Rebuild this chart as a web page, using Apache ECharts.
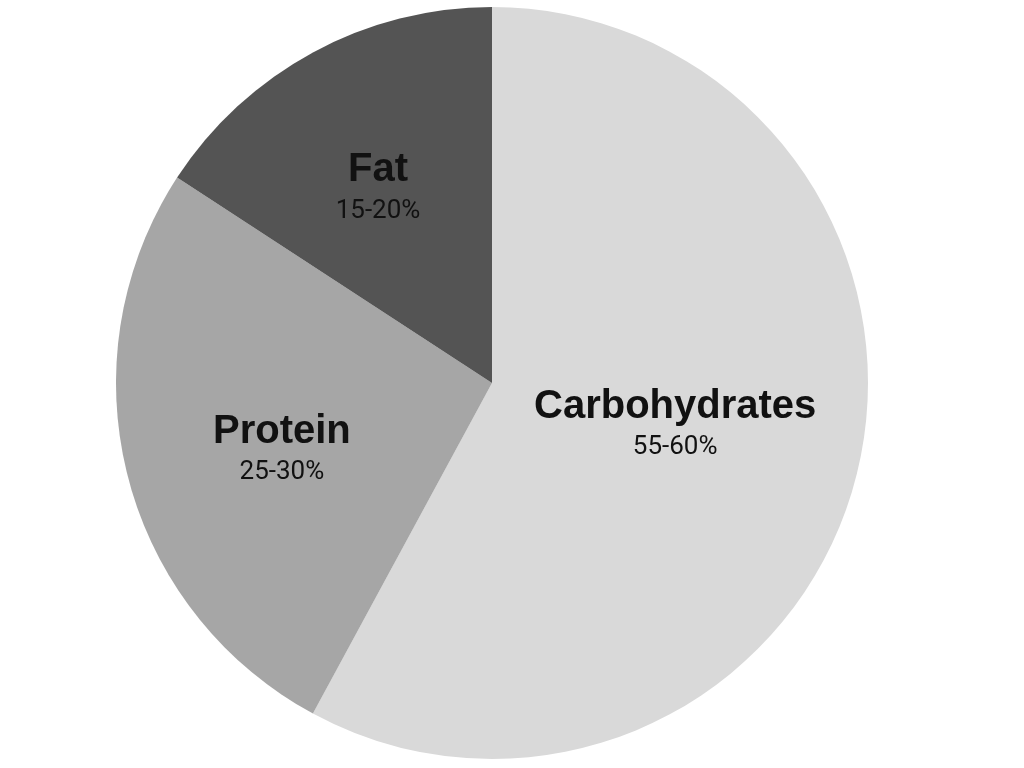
<!DOCTYPE html>
<html>
<head>
<meta charset="utf-8">
<script src="https://cdn.jsdelivr.net/npm/echarts@6/dist/echarts.min.js"></script>
<style>html,body{margin:0;padding:0;background:#fff;}#c{width:1024px;height:768px;}</style>
</head>
<body>
<div id="c"></div>
<script>
var categories = ['Carbohydrates', 'Protein', 'Fat'];
var shares = [57.9, 26.3, 15.8];
var rangeLabels = ['55-60%', '25-30%', '15-20%'];
var sliceColors = ['#d9d9d9', '#a6a6a6', '#545454'];
var labelShift = [[-2, -5], [-25, 20], [-23, -27]];

var chart = echarts.init(document.getElementById('c'), null, {renderer: 'canvas'});
var data = categories.map(function (n, i) {
  return {name: n, value: shares[i], range: rangeLabels[i], itemStyle: {color: sliceColors[i]}};
});
chart.setOption({
  animation: false,
  backgroundColor: '#ffffff',
  series: [{
    type: 'pie',
    center: [492, 383],
    radius: 376,
    startAngle: 90,
    clockwise: true,
    data: data,
    itemStyle: {borderWidth: 0},
    emphasis: {disabled: true},
    label: {
      position: 'inside',
      formatter: function (p) {
        return '{n|' + p.name + '}\n{p|' + p.data.range + '}';
      },
      rich: {
        n: {fontFamily: 'Liberation Sans', fontWeight: 'bold', fontSize: 40, color: '#111111', lineHeight: 46, align: 'center'},
        p: {fontFamily: 'Roboto', fontSize: 26, color: '#111111', lineHeight: 36, align: 'center'}
      }
    },
    labelLine: {show: false},
    labelLayout: function (params) {
      var s = labelShift[params.dataIndex];
      return {dx: s[0], dy: s[1]};
    }
  }]
});
</script>
</body>
</html>
